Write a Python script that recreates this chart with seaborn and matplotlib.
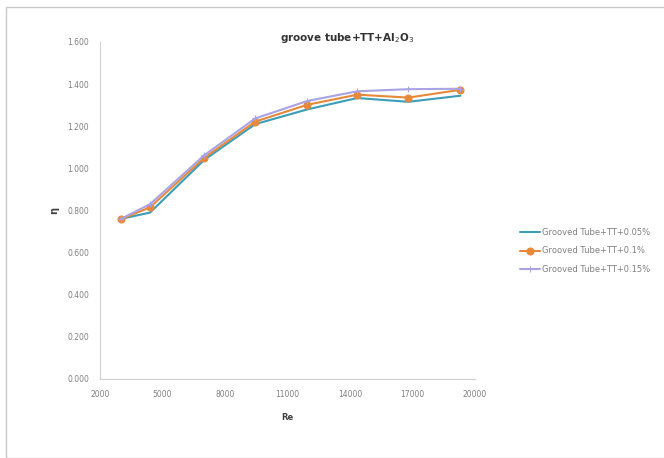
import numpy as np
import pandas as pd
import seaborn as sns
import matplotlib.pyplot as plt
from matplotlib.patches import Rectangle

# values
re_vals = [3000, 4400, 7000, 9450, 11950, 14350, 16800, 19300]
eta_005 = [0.760, 0.790, 1.040, 1.210, 1.280, 1.334, 1.316, 1.345]
eta_010 = [0.758, 0.815, 1.050, 1.222, 1.302, 1.350, 1.336, 1.373]
eta_015 = [0.760, 0.830, 1.062, 1.237, 1.320, 1.366, 1.376, 1.378]
series_names = ["Grooved Tube+TT+0.05%", "Grooved Tube+TT+0.1%", "Grooved Tube+TT+0.15%"]
x_ticks = [2000, 5000, 8000, 11000, 14000, 17000, 20000]
y_ticks = [0.0, 0.2, 0.4, 0.6, 0.8, 1.0, 1.2, 1.4, 1.6]

df = pd.DataFrame({
    "Re": re_vals * 3,
    "eta": eta_005 + eta_010 + eta_015,
    "series": [series_names[0]] * 8 + [series_names[1]] * 8 + [series_names[2]] * 8,
})

sns.set_style("white")
plt.rcParams['font.family'] = ['DejaVu Sans']

fig = plt.figure(figsize=(6.64, 4.58), dpi=100)
ax = fig.add_axes([0.1506, 0.1725, 0.5648, 0.7358])

palette = {series_names[0]: "#3C9DB8", series_names[1]: "#E8883A", series_names[2]: "#A9A3E3"}
markers = {series_names[0]: "", series_names[1]: "o", series_names[2]: "+"}

for name in series_names:
    d = df[df["series"] == name]
    sns.lineplot(data=d, x="Re", y="eta", ax=ax, color=palette[name],
                 marker=markers[name] if markers[name] else None,
                 markersize=5, markeredgewidth=0.8, markeredgecolor=palette[name],
                 linewidth=1.5, label=name)

ax.set_xlim(2000, 20000)
ax.set_ylim(0, 1.6)
ax.set_xticks(x_ticks)
ax.set_yticks(y_ticks)
ax.set_yticklabels([f"{v:.3f}" for v in y_ticks])
ax.tick_params(labelsize=5.5, colors="#808080", length=0, pad=8)
for s in ["top", "right"]:
    ax.spines[s].set_visible(False)
for s in ["left", "bottom"]:
    ax.spines[s].set_color("#D0D0D0")
    ax.spines[s].set_linewidth(0.8)

ax.set_xlabel("Re", fontsize=6, fontweight="bold", color="#404040", labelpad=10)
ax.set_ylabel("η", fontsize=7, fontweight="bold", color="#404040", rotation=90, labelpad=6)
fig.text(347 / 664, 1 - 38 / 458, "groove tube+TT+Al$_2$O$_3$", fontsize=7.5,
         fontweight="bold", color="#333333", ha="center", va="center")

leg = ax.legend(loc="center left", bbox_to_anchor=(1.1, 0.38), frameon=False,
                fontsize=6, handlelength=2.4, labelspacing=1.1, handletextpad=0.2)
for t in leg.get_texts():
    t.set_color("#808080")

fig.patches.append(Rectangle((6 / 664, 0), 1, 1 - 7 / 458, transform=fig.transFigure,
                             fill=False, edgecolor="#C8C8C8", linewidth=1.0))

fig.savefig("out.png", dpi=100)
